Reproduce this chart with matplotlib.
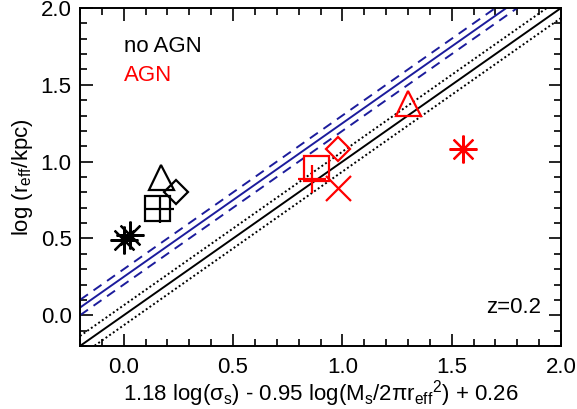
import matplotlib
matplotlib.use("Agg")
import matplotlib.pyplot as plt
import numpy as np
from matplotlib.ticker import MultipleLocator

plt.rcParams['font.family'] = ['Liberation Sans', 'DejaVu Sans']
plt.rcParams['mathtext.fontset'] = 'custom'
plt.rcParams['mathtext.rm'] = 'Liberation Sans'
plt.rcParams['mathtext.it'] = 'Liberation Sans'

# no AGN points (black)
noagn_markers = ['ast', 'ast', 's', '+', '^', 'D']
noagn_x = [0.00, 0.03, 0.15, 0.165, 0.17, 0.24]
noagn_y = [0.49, 0.52, 0.70, 0.69, 0.90, 0.80]

# AGN points (red)
agn_markers = ['s', '+', 'x', 'D', '^', 'ast']
agn_x = [0.88, 0.86, 0.98, 0.98, 1.30, 1.55]
agn_y = [0.96, 0.89, 0.83, 1.08, 1.38, 1.08]

# relations
one_to_one_offset = 0.0
dotted_scatter = 0.065
blue_offset = 0.25
blue_scatter = 0.05

fig = plt.figure(figsize=(5.77, 4.09), dpi=100)
ax = fig.add_axes([80/577, 1-346/409, 481/577, 338/409])
ax.set_xlim(-0.2, 2.0)
ax.set_ylim(-0.2, 2.0)

xx = np.array([-0.2, 2.0])
ax.plot(xx, xx + one_to_one_offset, color='black', lw=1.4)
ax.plot(xx, xx + dotted_scatter, color='black', lw=1.4, ls=(0, (1, 1.3)))
ax.plot(xx, xx - dotted_scatter, color='black', lw=1.4, ls=(0, (1, 1.3)))
ax.plot(xx, xx + blue_offset, color='#1c1c9c', lw=1.4)
ax.plot(xx, xx + blue_offset + blue_scatter, color='#1c1c9c', lw=1.4, ls=(0, (5, 3.5)))
ax.plot(xx, xx + blue_offset - blue_scatter, color='#1c1c9c', lw=1.4, ls=(0, (5, 3.5)))

def mk(m):
    if m == 'ast':
        return (8, 2, 0), 20
    if m == 's':
        return 's', 18
    if m == '+':
        return '+', 20
    if m == 'x':
        return 'x', 18
    if m == '^':
        return '^', 18
    if m == 'D':
        return 'D', 12.5
    return m, 15

for m, x, y in zip(noagn_markers, noagn_x, noagn_y):
    mm, ms = mk(m)
    ax.plot([x], [y], marker=mm, ms=ms, mfc='none', mec='black', mew=1.6, ls='none')
for m, x, y in zip(agn_markers, agn_x, agn_y):
    mm, ms = mk(m)
    ax.plot([x], [y], marker=mm, ms=ms, mfc='none', mec='red', mew=1.6, ls='none')

fs = 16
ax.text(0.0, 1.75, 'no AGN', color='black', fontsize=fs, va='center', ha='left')
ax.text(0.0, 1.56, 'AGN', color='red', fontsize=fs, va='center', ha='left')
ax.text(1.91, 0.05, 'z=0.2', color='black', fontsize=fs, va='center', ha='right')

ax.xaxis.set_major_locator(MultipleLocator(0.5))
ax.xaxis.set_minor_locator(MultipleLocator(0.1))
ax.yaxis.set_major_locator(MultipleLocator(0.5))
ax.yaxis.set_minor_locator(MultipleLocator(0.1))
ax.xaxis.set_major_formatter(matplotlib.ticker.FormatStrFormatter('%.1f'))
ax.yaxis.set_major_formatter(matplotlib.ticker.FormatStrFormatter('%.1f'))
ax.tick_params(which='both', direction='in', top=True, right=True, labelsize=fs, width=1.2)
ax.tick_params(which='major', length=9, pad=6)
ax.tick_params(axis='x', which='major', pad=8)
ax.tick_params(which='minor', length=5)
for s in ax.spines.values():
    s.set_linewidth(1.4)

ax.set_xlabel(r'1.18 log($\sigma_{\rm s}$) - 0.95 log(M$_{\rm s}$/2$\pi$r$_{\rm eff}$$^2$) + 0.26', fontsize=16, labelpad=0)
ax.set_ylabel(r'log (r$_{\rm eff}$/kpc)', fontsize=fs, labelpad=4)

fig.savefig('out.png', dpi=100)
